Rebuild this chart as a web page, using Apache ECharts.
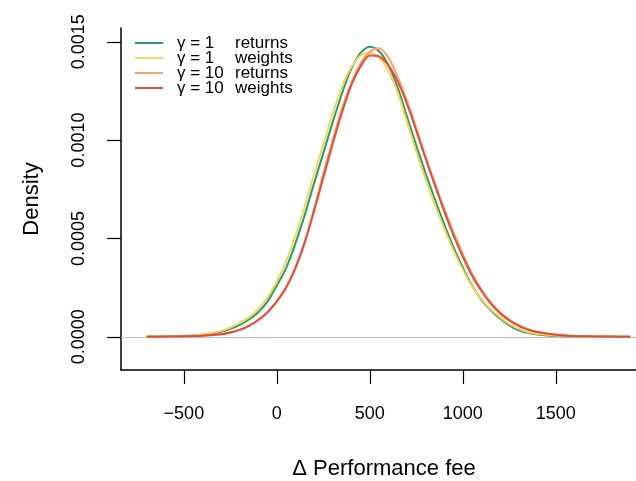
<!DOCTYPE html>
<html>
<head>
<meta charset="utf-8">
<script src="https://cdn.jsdelivr.net/npm/echarts@6/dist/echarts.min.js"></script>
<style>html,body{margin:0;padding:0;background:#fff}#c{width:636px;height:481px}</style>
</head>
<body>
<div id="c"></div>
<script>
// Grid of Δ Performance fee values at which densities were read
const xs = [-700,-600,-500,-400,-300,-250,-200,-150,-100,-50,0,50,100,150,200,250,300,350,400,450,500,550,600,650,700,750,800,850,900,950,1000,1050,1100,1150,1200,1250,1300,1350,1400,1500,1600,1700,1800,1900];

const seriesNames = ["γ = 1 returns","γ = 1 weights","γ = 10 returns","γ = 10 weights"];
const legendLeft = ["γ = 1","γ = 1","γ = 10","γ = 10"];
const legendRight = ["returns","weights","returns","weights"];

const g1Returns = [0.000001,0.000002,0.000004,0.00001,0.000025,0.00004,0.00006,0.000088,0.000125,0.00018,0.00026,0.00035,0.000475,0.00062,0.00078,0.000935,0.00109,0.001237,0.001362,0.001443,0.001475,0.001452,0.00138,0.001266,0.001118,0.000971,0.00083,0.000698,0.000572,0.000455,0.000351,0.000259,0.000187,0.000135,0.000093,0.000058,0.000033,0.00002,0.000012,0.000004,0.000002,0.000001,0,0];
const g1Weights = [0.000001,0.000002,0.000005,0.000012,0.00003,0.000047,0.00007,0.0001,0.00014,0.0002,0.000282,0.000385,0.000515,0.000665,0.000825,0.00098,0.001135,0.00127,0.00137,0.00143,0.001444,0.00142,0.00135,0.00124,0.00109,0.00094,0.0008,0.00067,0.00055,0.000437,0.00034,0.000255,0.000192,0.00014,0.0001,0.000065,0.00004,0.000024,0.000015,0.000006,0.000003,0.000001,0.000001,0];
const g10Returns = [0,0.000001,0.000002,0.000005,0.000013,0.000022,0.000035,0.000055,0.000085,0.000125,0.00018,0.00025,0.00035,0.00048,0.00065,0.00083,0.001,0.00116,0.00129,0.00139,0.00145,0.001467,0.00142,0.00132,0.0012,0.00106,0.000915,0.00078,0.00065,0.00053,0.00042,0.00032,0.00024,0.000175,0.000125,0.000087,0.000058,0.000038,0.000024,0.00001,0.000004,0.000002,0.000001,0];
const g10Weights = [0,0.000001,0.000002,0.000005,0.000013,0.000022,0.000035,0.000055,0.000085,0.000125,0.00018,0.00025,0.00035,0.00048,0.00064,0.00081,0.00098,0.00114,0.00128,0.001375,0.00143,0.001425,0.00138,0.001297,0.001183,0.001047,0.000905,0.00077,0.000638,0.000516,0.000407,0.000309,0.000233,0.000169,0.00012,0.000083,0.000056,0.000037,0.000024,0.00001,0.000004,0.000002,0.000001,0];

const xTicks = [-500,0,500,1000,1500];
const yTicks = [0,0.0005,0.001,0.0015];
const yTickLabels = ["0.0000","0.0005","0.0010","0.0015"];

const colors = ["#1fa163","#fcd35a","#f8a266","#ea4a3a"];
const valueSets = [g1Returns,g1Weights,g10Returns,g10Weights];

const FONT = "Liberation Sans, Arial, Helvetica, sans-serif";
const chart = echarts.init(document.getElementById('c'), null, {renderer:'canvas'});

const series = valueSets.map((vals,i)=>({
  name: seriesNames[i],
  type: 'line',
  data: xs.map((x,j)=>[x,vals[j]]),
  smooth: 0.3,
  showSymbol: false,
  symbol: 'none',
  lineStyle: {color: colors[i], width: 2},
  itemStyle: {color: colors[i]},
  z: 3 + i,
  animation: false
}));
series[0].markLine = {
  silent: true, symbol: 'none', animation: false,
  label: {show: false},
  lineStyle: {color: '#bebebe', width: 1, type: 'solid'},
  data: [{yAxis: 0}],
  z: 1
};

const legends = seriesNames.map((nm,k)=>({
  show: true, orient: 'vertical', left: 135, top: 34.5 + 15*k, padding: 0,
  itemWidth: 28, itemHeight: 2, itemGap: 0, icon: 'rect',
  data: [nm],
  formatter: () => '{a|' + legendLeft[k] + '}{b|' + legendRight[k] + '}',
  textStyle: {color: '#000', fontSize: 17, lineHeight: 15, fontFamily: FONT,
    rich: {a: {width: 58, fontSize: 17, lineHeight: 15, padding: [0,0,0,9], fontFamily: FONT, color: '#000'},
           b: {fontSize: 17, lineHeight: 15, fontFamily: FONT, color: '#000'}}}
}));

chart.setOption({
  animation: false,
  backgroundColor: '#ffffff',
  textStyle: {fontFamily: FONT},
  grid: {left: 121, top: 28, width: 526, height: 342, containLabel: false, outerBoundsMode: 'none'},
  xAxis: {
    type: 'value', min: -838, max: 1990,
    axisLine: {show: true, onZero: false, lineStyle: {color: '#000', width: 1.5}},
    axisTick: {show: true, length: 14, lineStyle: {color: '#000', width: 1.2}, customValues: xTicks},
    axisLabel: {show: true, color: '#000', fontSize: 18, fontFamily: FONT, margin: 35, customValues: xTicks,
      formatter: v => (v < 0 ? '\u2212' + Math.abs(v) : String(v))},
    splitLine: {show: false},
    name: 'Δ Performance fee', nameLocation: 'middle', nameGap: 88,
    nameTextStyle: {color: '#000', fontSize: 22, fontFamily: FONT}
  },
  yAxis: {
    type: 'value', min: -0.000169, max: 0.00157,
    axisLine: {show: true, onZero: false, lineStyle: {color: '#000', width: 1.5}},
    axisTick: {show: true, length: 14, lineStyle: {color: '#000', width: 1.2}, customValues: yTicks},
    axisLabel: {show: true, color: '#000', fontSize: 18, fontFamily: FONT, margin: 33, rotate: 90, customValues: yTicks,
      formatter: v => { const k = yTicks.findIndex(t => Math.abs(t - v) < 1e-9); return k >= 0 ? yTickLabels[k] : ''; }},
    splitLine: {show: false},
    name: 'Density', nameLocation: 'middle', nameGap: 78, nameRotate: 90,
    nameTextStyle: {color: '#000', fontSize: 22, fontFamily: FONT}
  },
  legend: legends,
  series: series
});
</script>
</body>
</html>
